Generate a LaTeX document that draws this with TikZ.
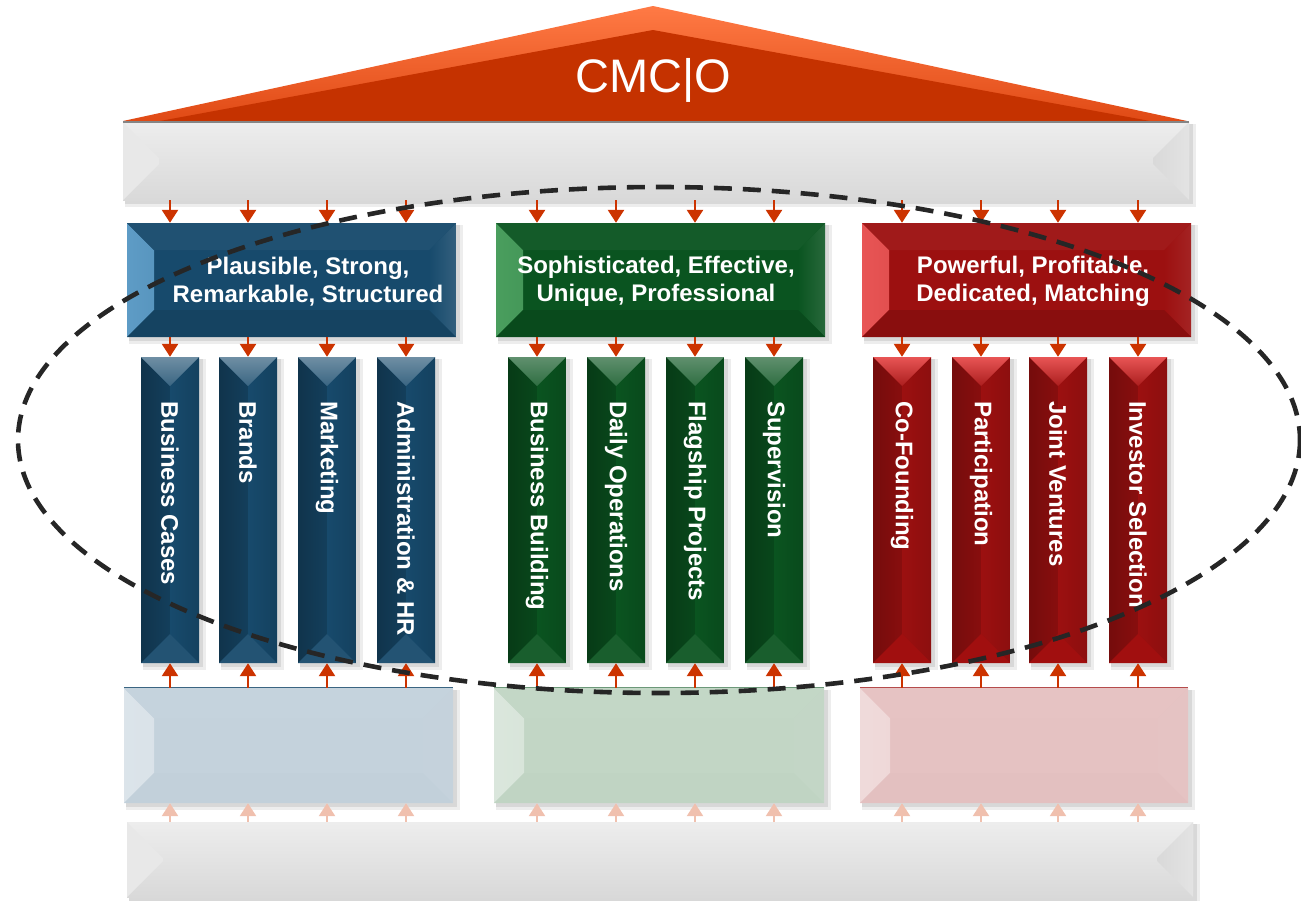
\documentclass[tikz,border=0pt]{standalone}
\usepackage{fontspec}
\setmainfont{Liberation Sans}
\usetikzlibrary{arrows.meta,calc,backgrounds}
\definecolor{arrc}{HTML}{CC3300}
\definecolor{farrc}{HTML}{F0C0AE}
\definecolor{roofL}{HTML}{FF7A45}
\definecolor{roofM}{HTML}{E04A15}
\definecolor{roofD}{HTML}{C53200}
\definecolor{ringc}{HTML}{262626}
\definecolor{blueB}{HTML}{174A6C}
\definecolor{blueL}{HTML}{5E9CC6}
\definecolor{greenB}{HTML}{0A5420}
\definecolor{greenL}{HTML}{4A9E5E}
\definecolor{redB}{HTML}{9C1010}
\definecolor{redL}{HTML}{E85555}
\definecolor{lblueB}{HTML}{C4D2DC}
\definecolor{lgreenB}{HTML}{C2D6C5}
\definecolor{lredB}{HTML}{E5C2C2}
\newcommand{\lblfont}{\fontsize{24pt}{28pt}\selectfont\bfseries}
\newcommand{\ttlfont}{\fontsize{47pt}{50pt}\selectfont}
\tikzset{
  bev/.style n args={5}{path picture={
    \path[#2] (path picture bounding box.north west) -- (path picture bounding box.south west) -- ($(path picture bounding box.south west)+(#1,#1)$) -- ($(path picture bounding box.north west)+(#1,-#1)$) -- cycle;
    \path[#4] (path picture bounding box.north east) -- (path picture bounding box.south east) -- ($(path picture bounding box.south east)+(-#1,#1)$) -- ($(path picture bounding box.north east)+(-#1,-#1)$) -- cycle;
    \path[#3] (path picture bounding box.north west) -- (path picture bounding box.north east) -- ($(path picture bounding box.north east)+(-#1,-#1)$) -- ($(path picture bounding box.north west)+(#1,-#1)$) -- cycle;
    \path[#5] (path picture bounding box.south west) -- (path picture bounding box.south east) -- ($(path picture bounding box.south east)+(-#1,#1)$) -- ($(path picture bounding box.south west)+(#1,#1)$) -- cycle;
  }},
  arr/.style={draw=arrc, line width=2.6pt, -{Triangle[width=16pt,length=13pt]}},
  farr/.style={draw=farrc, line width=2.6pt, -{Triangle[width=16pt,length=13pt]}},
  beam/.style={minimum width=1066pt, inner sep=0pt, top color=black!7, bottom color=black!15,
    bev={36pt}{left color=black!9,right color=black!14}{}{left color=black!15,right color=black!11}{}},
  hdr/.style={minimum width=329pt, minimum height=114pt, inner sep=0pt},
  hdrtext/.style={inner sep=0pt, text=white, font=\lblfont, align=center},
  hdrB/.style={hdr, fill=blueB, bev={27pt}{left color=blueL,right color=blueB}{fill=blueB!96!white}{left color=blueB,right color=blueB!88!white}{fill=blueB!90!black}},
  hdrG/.style={hdr, fill=greenB, bev={27pt}{left color=greenL,right color=greenB}{fill=greenB!96!white}{left color=greenB,right color=greenB!88!white}{fill=greenB!88!black}},
  hdrR/.style={hdr, fill=redB, bev={27pt}{left color=redL,right color=redB}{fill=redB!96!white}{left color=redB,right color=redB!92!white}{fill=redB!88!black}},
  col/.style={minimum width=58pt, minimum height=306pt, inner sep=0pt},
  colB/.style={col, fill=blueB, bev={29pt}{left color=blueB!70!black,right color=blueB}{top color=blueB!62!white,bottom color=blueB!85!white}{left color=blueB,right color=blueB!88!black}{fill=blueB!95!white}},
  colG/.style={col, fill=greenB, bev={29pt}{left color=greenB!70!black,right color=greenB}{top color=greenB!65!white,bottom color=greenB!85!white}{left color=greenB,right color=greenB!88!black}{fill=greenB!94!white}},
  colR/.style={col, fill=redB, bev={29pt}{left color=redB!75!black,right color=redB}{top color=redL,bottom color=redB!80!redL}{left color=redB,right color=redB!90!black}{fill=redB!95!red}},
  coltext/.style={rotate=-90, anchor=west, inner sep=0pt, text=white, font=\lblfont},
  low/.style={minimum width=329pt, minimum height=115pt, inner sep=0pt},
  lowB/.style={low, fill=lblueB, bev={30pt}{left color=lblueB!60!white,right color=lblueB}{fill=lblueB!98!white}{fill=lblueB!99!white}{fill=lblueB!99!black}},
  lowG/.style={low, fill=lgreenB, bev={30pt}{left color=lgreenB!60!white,right color=lgreenB}{fill=lgreenB!98!white}{fill=lgreenB!99!white}{fill=lgreenB!99!black}},
  lowR/.style={low, fill=lredB, bev={30pt}{left color=lredB!60!white,right color=lredB}{fill=lredB!98!white}{fill=lredB!99!white}{fill=lredB!99!black}},
  ring/.style={draw=ringc, line width=4.6pt, dash pattern=on 18pt off 11pt}
}
\begin{document}
\begin{tikzpicture}[x=1pt,y=-1pt]
\useasboundingbox (0,0) rectangle (1301,900);
% roof
\shade[top color=roofL, bottom color=roofM] (123,121) -- (653,6) -- (1187,121) -- cycle;
\fill[roofD] (160,121) -- (653,30) -- (1150,121) -- cycle;
\node[text=white, font=\ttlfont, inner sep=0pt] (ttl) at (653,80) {CMC|O};
% beams
\node[beam, minimum height=78pt] (topbeam) at (656,161) {};
\draw[black!48, line width=1.8pt] (topbeam.north west) -- (topbeam.north east);
\node[beam, minimum height=75pt] (basebeam) at (660,859.5) {};
% headers
\node[hdrB] (hB) at (291.5,280) {};
\node[hdrG] (hG) at (660.5,280) {};
\node[hdrR] (hR) at (1026.5,280) {};
\node[hdrtext] (htB) at (308,281.5) {Plausible, Strong,\\Remarkable, Structured};
\node[hdrtext] (htG) at (656,281.5) {Sophisticated, Effective,\\Unique, Professional};
\node[hdrtext] (htR) at (1033,281.5) {Powerful, Profitable,\\Dedicated, Matching};
% lower boxes
\node[lowB] (lB) at (288.5,745.5) {};
\node[lowG, minimum width=330pt] (lG) at (659,745.5) {};
\node[lowR, minimum width=328pt] (lR) at (1024,745.5) {};
\draw[blueB!85!white, line width=1.2pt] (lB.north west) -- (lB.north east);
\draw[greenB!60!white, line width=1.2pt] (lG.north west) -- (lG.north east);
\draw[redB!75!white, line width=1.2pt] (lR.north west) -- (lR.north east);
% columns
\node[colB] (c1) at (170,510) {};
\node[colB] (c2) at (248,510) {};
\node[colB] (c3) at (327,510) {};
\node[colB] (c4) at (406,510) {};
\node[colG] (c5) at (537,510) {};
\node[colG] (c6) at (616,510) {};
\node[colG] (c7) at (695,510) {};
\node[colG] (c8) at (774,510) {};
\node[colR] (c9) at (902,510) {};
\node[colR] (c10) at (981,510) {};
\node[colR] (c11) at (1058,510) {};
\node[colR] (c12) at (1138,510) {};
\node[coltext] (t1) at (c1 |- 0,401) {Business Cases};
\node[coltext] (t2) at (c2 |- 0,401) {Brands};
\node[coltext] (t3) at (c3 |- 0,401) {Marketing};
\node[coltext] (t4) at (c4 |- 0,401) {Administration \& HR};
\node[coltext] (t5) at (c5 |- 0,401) {Business Building};
\node[coltext] (t6) at (c6 |- 0,401) {Daily Operations};
\node[coltext] (t7) at (c7 |- 0,401) {Flagship Projects};
\node[coltext] (t8) at (c8 |- 0,401) {Supervision};
\node[coltext] (t9) at (c9 |- 0,401) {Co-Founding};
\node[coltext] (t10) at (c10 |- 0,401) {Participation};
\node[coltext] (t11) at (c11 |- 0,401) {Joint Ventures};
\node[coltext] (t12) at (c12 |- 0,401) {Investor Selection};
% arrows
\foreach \c/\h/\l in {c1/hB/lB,c2/hB/lB,c3/hB/lB,c4/hB/lB,c5/hG/lG,c6/hG/lG,c7/hG/lG,c8/hG/lG,c9/hR/lR,c10/hR/lR,c11/hR/lR,c12/hR/lR}{
  \draw[arr] (\c |- topbeam.south) -- (\c |- \h.north);
  \draw[arr] (\c |- \h.south) -- (\c.north);
  \draw[arr] (\c |- \l.north) -- (\c.south);
  \draw[farr] (\c |- basebeam.north) -- (\c |- \l.south);
}
% shadows
\begin{pgfonlayer}{background}
\foreach \n in {topbeam,basebeam,hB,hG,hR,lB,lG,lR,c1,c2,c3,c4,c5,c6,c7,c8,c9,c10,c11,c12}{
  \fill[black, opacity=0.07] ($(\n.north west)+(2pt,-2pt)$) rectangle ($(\n.south east)+(7pt,-7pt)$);
  \fill[black, opacity=0.09] ($(\n.north west)+(2pt,-2pt)$) rectangle ($(\n.south east)+(4pt,-4pt)$);
}
\end{pgfonlayer}
% dashed ellipse
\draw[ring] (659,440) ellipse [x radius=641, y radius=253];
\end{tikzpicture}
\end{document}
